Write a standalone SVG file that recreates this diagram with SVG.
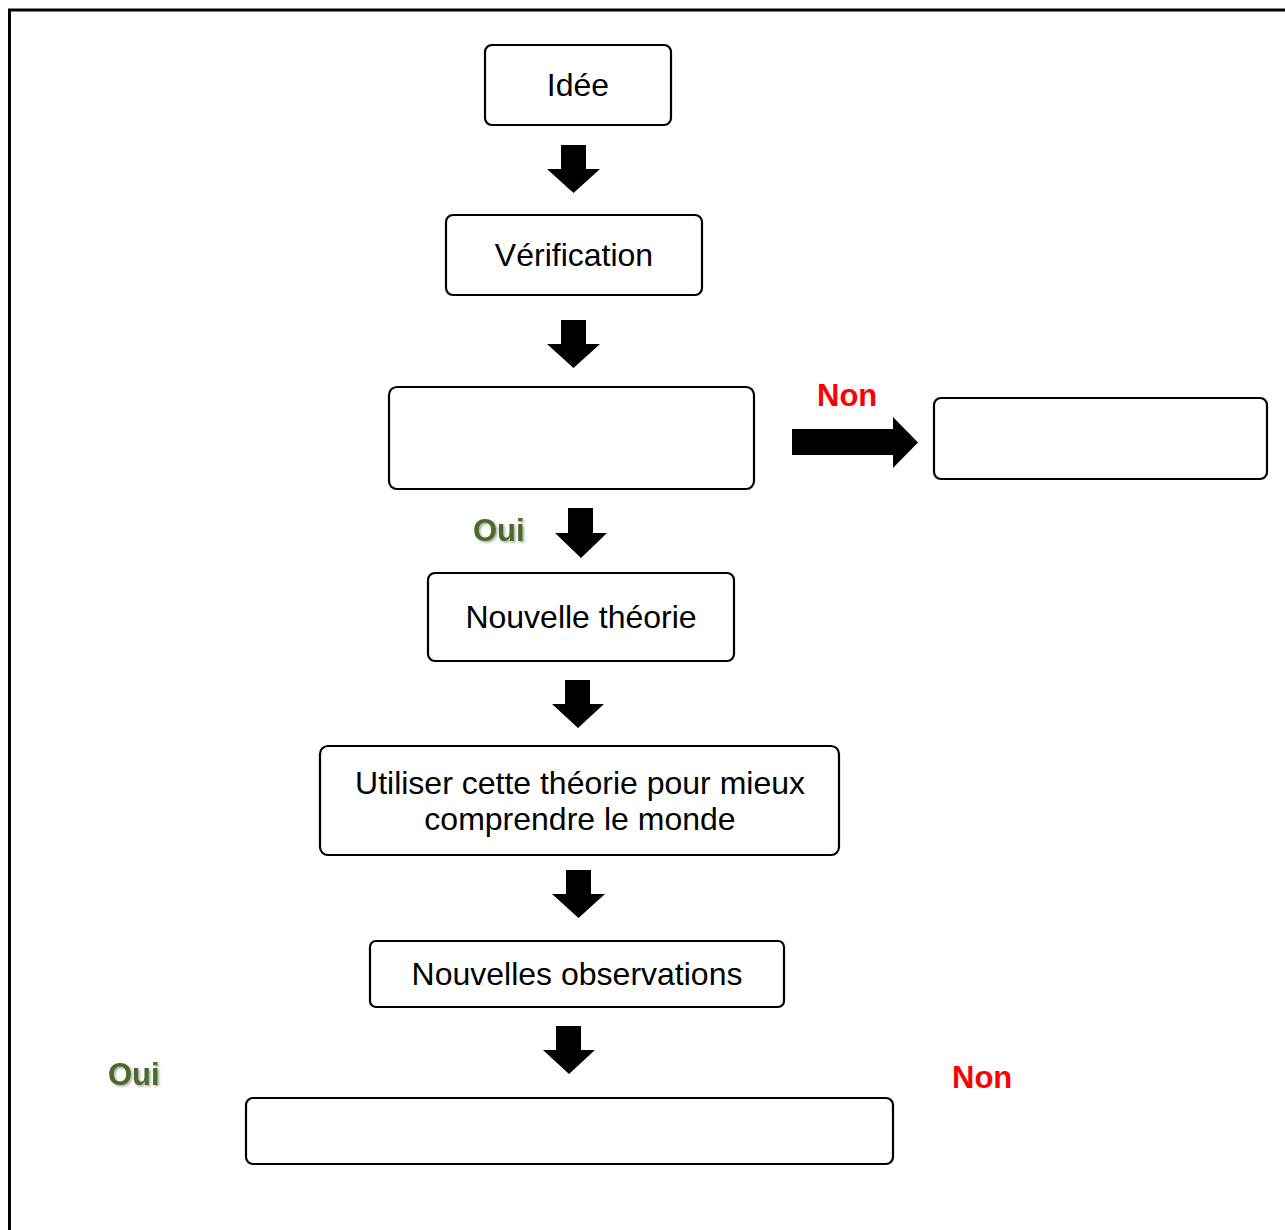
<svg xmlns="http://www.w3.org/2000/svg" width="1285" height="1230" viewBox="0 0 1285 1230">
<defs>
<style>
.box{fill:#fff;stroke:#000;stroke-width:2.2}
.t{font-family:"Liberation Sans",Arial,sans-serif;font-size:32px;fill:#000;text-anchor:middle}
.non{font-family:"Liberation Sans",Arial,sans-serif;font-size:31px;font-weight:bold;fill:#ff0000}
.oui{font-family:"Liberation Sans",Arial,sans-serif;font-size:31px;font-weight:bold;fill:#4a6a2a}
.arr{fill:#000}
</style>
<filter id="sh" x="-20%" y="-20%" width="140%" height="140%">
<feDropShadow dx="1.5" dy="1.5" stdDeviation="1" flood-color="#000" flood-opacity="0.35"/>
</filter>
</defs>
<rect width="1285" height="1230" fill="#fff"/>
<path d="M9.5 1240 V10 H1295" fill="none" stroke="#000" stroke-width="3"/>

<g id="connectors">
<path class="arr" d="M561 145 H586 V169 H600 L573.5 193 L547 169 H561 Z"/>
<path class="arr" d="M561 320 H586 V344 H600 L573.5 368 L547 344 H561 Z"/>
<path class="arr" d="M568 508 H593 V533 H607 L581 558 L555 533 H568 Z"/>
<path class="arr" d="M565 680 H590 V704 H604 L578 728 L552 704 H565 Z"/>
<path class="arr" d="M566 870 H591 V894 H605 L578.5 918 L552 894 H566 Z"/>
<path class="arr" d="M556 1026 H581 V1050 H595 L569 1074 L543 1050 H556 Z"/>
<path class="arr" d="M792 429 H893 V417 L918 442.5 L893 468 V455 H792 Z"/>
</g>

<g id="idee">
<rect class="box" x="485" y="45" width="186" height="80" rx="7"/>
<text class="t" x="578" y="96">Idée</text>
</g>
<g id="verification">
<rect class="box" x="446" y="215" width="256" height="80" rx="7"/>
<text class="t" x="574" y="266">Vérification</text>
</g>
<g id="decision">
<rect class="box" x="389" y="387" width="365" height="102" rx="8"/>
</g>
<g id="rejet">
<rect class="box" x="934" y="398" width="333" height="81" rx="7"/>
</g>
<g id="theorie">
<rect class="box" x="428" y="573" width="306" height="88" rx="7"/>
<text class="t" x="581" y="628">Nouvelle théorie</text>
</g>
<g id="utiliser">
<rect class="box" x="320" y="746" width="519" height="109" rx="8"/>
<text class="t" x="580" y="794">Utiliser cette théorie pour mieux</text>
<text class="t" x="580" y="830">comprendre le monde</text>
</g>
<g id="observations">
<rect class="box" x="370" y="941" width="414" height="66" rx="6"/>
<text class="t" x="577" y="985">Nouvelles observations</text>
</g>
<g id="final">
<rect class="box" x="246" y="1098" width="647" height="66" rx="7"/>
</g>
<g id="labels">
<text class="non" x="817" y="406">Non</text>
<text class="oui" x="473" y="541" filter="url(#sh)">Oui</text>
<text class="oui" x="108" y="1085" filter="url(#sh)">Oui</text>
<text class="non" x="952" y="1088">Non</text>
</g>
</svg>
